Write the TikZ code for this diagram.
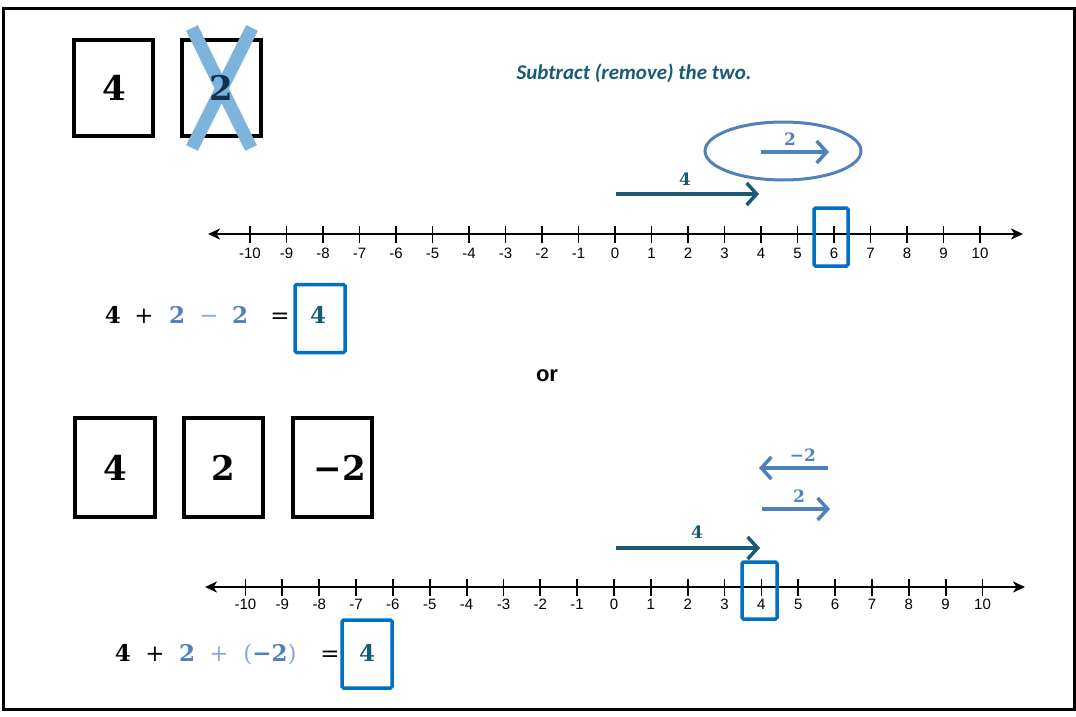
\documentclass[tikz,border=0pt]{standalone}
\usepackage{fontspec}
\setmainfont{DejaVu Serif}
\newfontfamily\arialf{Liberation Sans}
\newfontfamily\calf{Carlito}
\usetikzlibrary{arrows.meta}
\definecolor{tealA}{RGB}{23,92,114}
\definecolor{blueA}{RGB}{79,129,189}
\definecolor{blueB}{RGB}{140,168,214}
\definecolor{boxblue}{RGB}{0,112,192}
\definecolor{xblue}{RGB}{125,180,222}
\definecolor{navy}{RGB}{14,52,82}
\tikzset{
  card/.style={draw=black,line width=4pt,inner sep=0pt},
  bigdig/.style={font=\fontsize{34}{40}\selectfont\bfseries,inner sep=0pt},
  eqtxt/.style={font=\fontsize{23}{28}\selectfont\bfseries,inner sep=0pt,anchor=base},
  eqop/.style={font=\fontsize{23}{28}\selectfont,inner sep=0pt,anchor=base},
  lbl/.style={font=\fontsize{17}{20}\selectfont\bfseries,inner sep=0pt},
  ticklbl/.style={font=\arialf\fontsize{15}{18}\selectfont,inner sep=0pt},
  axis/.style={line width=2pt,{Stealth[length=12pt,width=11pt,inset=3.5pt]}-{Stealth[length=12pt,width=11pt,inset=3.5pt]}},
  tickmark/.style={line width=1.8pt},
  hibox/.style={draw=boxblue,line width=3.5pt,rounded corners=1.5pt},
  movearrow/.style={line width=4pt,-{Straight Barb[length=10pt,width=22pt,line width=3.5pt]}},
  cross/.style={xblue,line width=13pt},
}
\begin{document}
\begin{tikzpicture}[x=1pt,y=-1pt]
\useasboundingbox (0,0) rectangle (1076,717);
\draw[line width=3pt] (3,9) rectangle (1074,709);

% top cards
\draw[card] (74,40) rectangle (153,136);
\node[bigdig] (c1) at (114,88) {4};
\draw[card] (182,40) rectangle (261,136);
\coordinate (xa1) at (192,28); \coordinate (xa2) at (251,148);
\coordinate (xb1) at (252,28); \coordinate (xb2) at (192,148);
\draw[cross] (xa1) -- (xa2);
\draw[cross] (xb1) -- (xb2);
\node[bigdig,text=navy] (c2) at (221,88) {2};

\node[font=\calf\fontsize{21}{25}\selectfont\bfseries\itshape,text=tealA,inner sep=0pt] (sub) at (634,73) {Subtract (remove) the two.};

% top number line
\coordinate (a1l) at (208,234); \coordinate (a1r) at (1023,234);
\draw[axis] (a1l) -- (a1r);
\foreach \n in {-10,...,10}{
  \coordinate (t1\n) at ({615+36.5*\n},234);
  \draw[tickmark] ([yshift=-8.5pt]t1\n) -- ([yshift=8.5pt]t1\n);
  \node[ticklbl] (l1\n) at ({615+36.5*\n},253) {\n};
}
\node[hibox,minimum width=34pt,minimum height=58pt] (h1) at (831,237) {};

% top arrows
\coordinate (f1s) at (616,194); \coordinate (f1e) at (759,194);
\draw[movearrow,tealA] (f1s) -- (f1e);
\node[lbl,text=tealA] (f1l) at (685,179) {4};
\draw[blueA,line width=3pt] (783,151) ellipse (78pt and 29pt);
\node (ell) at (783,151) {};
\coordinate (g1s) at (761,152); \coordinate (g1e) at (829,152);
\draw[movearrow,blueA] (g1s) -- (g1e);
\node[lbl,text=blueA] (g1l) at (790,139) {2};

% equation 1
\node[eqtxt] (e1a) at (113,323) {4};
\node[eqop] (e1b) at (144,323) {+};
\node[eqtxt,text=blueA] (e1c) at (177,323) {2};
\node[eqop,text=blueB] (e1d) at (209,323) {−};
\node[eqtxt,text=blueA] (e1e) at (240,323) {2};
\node[eqop] (e1f) at (280,323) {=};
\node[hibox,minimum width=50pt,minimum height=68pt] (e1box) at (320,318.5) {};
\node[eqtxt,text=tealA] (e1g) at (318,323) {4};

\node[font=\arialf\fontsize{22}{26}\selectfont\bfseries,inner sep=0pt] (or) at (547,376) {or};

% bottom cards
\draw[card] (75,418) rectangle (155,517);
\node[bigdig] (d1) at (115,468) {4};
\draw[card] (184,418) rectangle (263,517);
\node[bigdig] (d2) at (223,468) {2};
\draw[card] (293,418) rectangle (372,517);
\node[bigdig] (d3) at (340,468) {−2};

% bottom arrows
\coordinate (m2s) at (828,468); \coordinate (m2e) at (759,468);
\draw[movearrow,blueA] (m2s) -- (m2e);
\node[lbl,text=blueA] (m2l) at (803,455) {−2};
\coordinate (p2s) at (762,509); \coordinate (p2e) at (830,509);
\draw[movearrow,blueA] (p2s) -- (p2e);
\node[lbl,text=blueA] (p2l) at (799,496) {2};
\coordinate (f2s) at (616,548); \coordinate (f2e) at (760,548);
\draw[movearrow,tealA] (f2s) -- (f2e);
\node[lbl,text=tealA] (f2l) at (697,532) {4};

% bottom number line
\coordinate (a2l) at (205,587); \coordinate (a2r) at (1025,587);
\draw[axis] (a2l) -- (a2r);
\foreach \n in {-10,...,10}{
  \coordinate (t2\n) at ({614+36.85*\n},587);
  \draw[tickmark] ([yshift=-8.5pt]t2\n) -- ([yshift=8.5pt]t2\n);
  \node[ticklbl] (l2\n) at ({614+36.85*\n},604) {\n};
}
\node[hibox,minimum width=35pt,minimum height=57pt] (h2) at (759.5,590.5) {};

% equation 2
\node[eqtxt] (e2a) at (123,661) {4};
\node[eqop] (e2b) at (155,661) {+};
\node[eqtxt,text=blueA] (e2c) at (187,661) {2};
\node[eqop,text=blueB] (e2d) at (219,661) {+};
\node[eqtxt,text=blueA] (e2e) at (270,661) {\textcolor{blueB}{\mdseries(}−2\textcolor{blueB}{\mdseries)}};
\node[eqop] (e2f) at (330,661) {=};
\node[hibox,minimum width=50pt,minimum height=68pt] (e2box) at (367,654) {};
\node[eqtxt,text=tealA] (e2g) at (367,661) {4};
\end{tikzpicture}
\end{document}
